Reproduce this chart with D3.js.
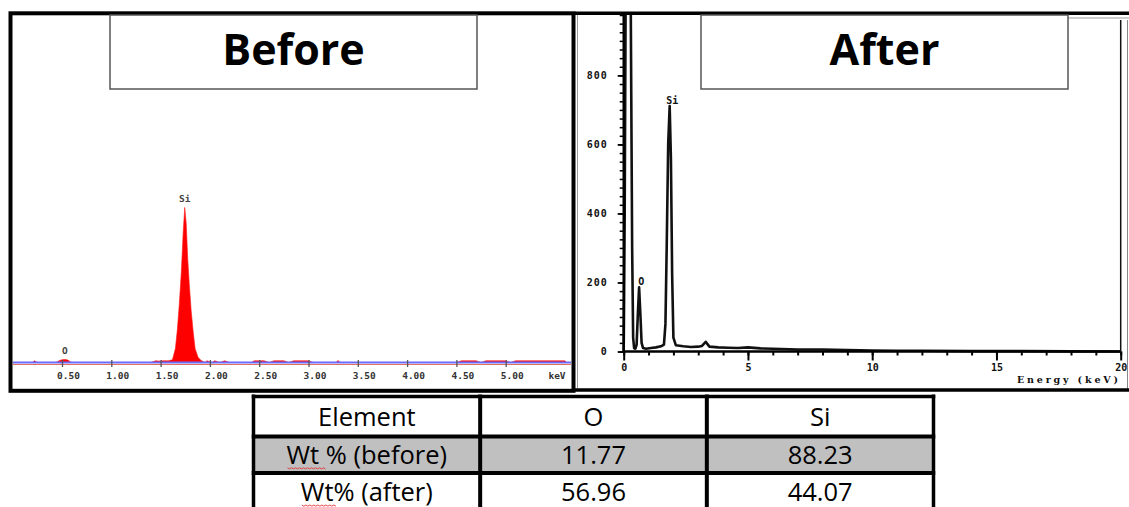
<!DOCTYPE html>
<html><head><meta charset="utf-8">
<script src="https://cdn.jsdelivr.net/npm/d3@7"></script>
<style>body{margin:0;background:#fff} svg{display:block}</style>
</head><body><svg id="c" width="1129" height="507"></svg>
<script>
// ---------- DATA ----------
const panelTitles = ["Before", "After"];

// EDS spectrum before (keV, counts, arbitrary units)
const beforeKeV =    [0.00,0.20,0.22,0.25,0.44,0.47,0.50,0.53,0.56,0.58,0.60,1.40,1.45,1.48,1.52,1.58,1.62,1.65,1.67,1.69,1.71,1.73,1.745,1.76,1.775,1.79,1.81,1.83,1.85,1.88,1.91,1.95,1.97,2.02,2.05,2.10,2.15,2.20,2.42,2.45,2.55,2.60,2.65,2.75,2.80,2.85,3.00,3.05,3.28,3.30,3.32,4.50,4.55,4.70,4.75,4.80,5.00,5.05,5.10,5.60,5.62];
const beforeCounts = [0,   0,   5,   0,   0,   5,   8,   9,   7,   3,   0,   0,   5,   4,   5,   5,   8,   40,  95,  170, 260, 380, 447,  400, 300,  230, 150, 90,  40,  15,  6,   0,   5,   0,   5,   0,   5,   0,   0,   5,   5,   0,   5,   5,   0,   5,   5,   0,   0,   6,   0,   0,   5,   5,   0,   5,   5,   0,   5,   5,   0];
const beforeXTicks = [0.5,1.0,1.5,2.0,2.5,3.0,3.5,4.0,4.5,5.0];
const beforePeaks = [{label:"O", keV:0.53, counts:9}, {label:"Si", keV:1.745, counts:447}];

// EDS spectrum after (keV, counts)
const afterKeV =    [0.00,0.04,0.08,0.28,0.34,0.38,0.42,0.47,0.52,0.57,0.62,0.67,0.72,0.78,0.90,1.10,1.30,1.50,1.62,1.68,1.73,1.79,1.85,1.90,1.95,2.00,2.10,2.40,2.70,3.00,3.15,3.30,3.45,3.80,4.20,4.60,5.00,5.50,6.00,7.00,8.00,9.00,10.0,11.0,12.0,14.0,16.0,18.0,20.0];
const afterCounts = [0,   400, 1050,1050,300, 40,  10,  8,   20,  110, 186, 110, 25,  10,  8,   10,  12,  15,  20,  80,  300, 600, 711, 560, 220, 40,  18,  15,  13,  14,  16,  28,  14,  12,  11,  10,  12,  9,   8,   6,   6,   4,   3,   2,   2,   1,   1,   0.5, 0];
const afterXTicks = [0,5,10,15,20];
const afterYTicks = [0,200,400,600,800];
const afterPeaks = [{label:"O", keV:0.63, counts:186}, {label:"Si", keV:1.87, counts:711}];

// composition table
const tableHeader = ["Element", "O", "Si"];
const tableRowLabels = ["Wt % (before)", "Wt% (after)"];
const tableO  = ["11.77", "56.96"];
const tableSi = ["88.23", "44.07"];

// ---------- DRAW ----------
const svg = d3.select("#c");

// ===== LEFT PANEL (Before) =====
const xB = d3.scaleLinear().domain([0, 5]).range([12.7, 505.7]);
const yB = d3.scaleLinear().domain([0, 1000]).range([362.5, 15.5]);

const left = svg.append("g");
const beforeData = beforeKeV.map((k,i)=>({k, c: beforeCounts[i]}));

left.append("path").datum(beforeData)
  .attr("d", d3.area().x(d=>xB(d.k)).y0(yB(0)).y1(d=>yB(d.c)))
  .attr("fill", "#ff0000").attr("stroke", "#ff1a1a").attr("stroke-width", 0.6);

left.append("line").attr("x1", 13).attr("x2", 571).attr("y1", yB(0)).attr("y2", yB(0))
  .attr("stroke", "#6a6aff").attr("stroke-width", 2);
left.append("line").attr("x1", 13).attr("x2", 571).attr("y1", yB(0)+2).attr("y2", yB(0)+2)
  .attr("stroke", "#e07060").attr("stroke-width", 1);

const axB = left.append("g").attr("transform", "translate(0,360)")
  .call(d3.axisBottom(xB).tickValues(beforeXTicks).tickSize(7).tickPadding(5).tickFormat(d3.format(".2f")));
axB.select(".domain").remove();
axB.selectAll("line").attr("stroke", "#555").attr("stroke-width", 1.3);
axB.selectAll("text").attr("font-family", "DejaVu Sans Mono").attr("font-size", 9.5)
  .attr("fill", "#333").attr("dx", 6).attr("font-weight", "bold");
left.append("text").attr("x", 557).attr("y", 379).attr("text-anchor", "middle")
  .attr("font-family", "DejaVu Sans Mono").attr("font-size", 9.5).attr("font-weight", "bold")
  .attr("fill", "#333").text("keV");

left.selectAll(".pl").data(beforePeaks).enter().append("text")
  .attr("x", d=>xB(d.keV)).attr("y", d=>yB(d.counts)-5)
  .attr("text-anchor", "middle").attr("font-family", "DejaVu Sans Mono").attr("font-size", 9.5)
  .attr("font-weight", "bold").attr("fill", "#444").text(d=>d.label);

left.append("rect").attr("x", 10.5).attr("y", 13.3).attr("width", 563).attr("height", 377.5)
  .attr("fill", "none").attr("stroke", "#000").attr("stroke-width", 4);

left.append("rect").attr("x", 110).attr("y", 15).attr("width", 367).attr("height", 74)
  .attr("fill", "#fff").attr("stroke", "#555").attr("stroke-width", 1.5);
left.append("text").attr("x", 293.5).attr("y", 65).attr("text-anchor", "middle")
  .attr("font-family", "Open Sans").attr("font-weight", "bold").attr("font-size", 43)
  .attr("fill", "#000").text(panelTitles[0]);

// ===== RIGHT PANEL (After) =====
const xA = d3.scaleLinear().domain([0, 20]).range([623.7, 1120.7]);
const yA = d3.scaleLinear().domain([0, 975]).range([351.5, 15]);
const right = svg.append("g");

svg.append("defs").append("clipPath").attr("id", "clipA").append("rect")
  .attr("x", 600).attr("y", 15).attr("width", 525).attr("height", 340);

const afterData = afterKeV.map((k,i)=>({k, c: afterCounts[i]}));
right.append("path").datum(afterData).attr("clip-path", "url(#clipA)")
  .attr("d", d3.line().x(d=>xA(d.k)).y(d=>yA(d.c)))
  .attr("fill", "none").attr("stroke", "#111").attr("stroke-width", 2.6).attr("stroke-linejoin", "round");

const axAx = right.append("g").attr("transform", `translate(0,${yA(0)})`)
  .call(d3.axisBottom(xA).tickValues(afterXTicks).tickSize(9).tickPadding(3));
axAx.select(".domain").attr("stroke-width", 2.4).attr("d", `M${xA(0)},0H${xA(20)}`);
axAx.selectAll("line").attr("stroke-width", 2);
axAx.selectAll("text").attr("font-family", "DejaVu Sans Mono").attr("font-size", 10)
  .attr("font-weight", "bold").attr("fill", "#111");
right.append("g").attr("transform", `translate(0,${yA(0)})`)
  .call(d3.axisBottom(xA).tickValues(d3.range(0, 21, 1)).tickSize(4).tickFormat(""))
  .call(g=>g.select(".domain").remove())
  .selectAll("line").attr("stroke-width", 2);

const axAy = right.append("g").attr("transform", `translate(${xA(0)},0)`)
  .call(d3.axisLeft(yA).tickValues(afterYTicks).tickSize(6).tickPadding(10));
axAy.select(".domain").attr("stroke-width", 2.4).attr("d", `M0,${yA(975)}V${yA(0)}`);
axAy.selectAll("line").attr("stroke-width", 1.8);
axAy.selectAll("text").attr("font-family", "DejaVu Sans Mono").attr("font-size", 10)
  .attr("font-weight", "bold").attr("fill", "#111").attr("letter-spacing", 1);
right.append("g").attr("transform", `translate(${xA(0)},0)`)
  .call(d3.axisLeft(yA).tickValues(d3.range(0, 976, 25)).tickSize(4).tickFormat(""))
  .call(g=>g.select(".domain").remove())
  .selectAll("line").attr("stroke-width", 1.5);

right.append("line").attr("x1", xA(20)).attr("x2", xA(20)).attr("y1", 20).attr("y2", yA(0))
  .attr("stroke", "#111").attr("stroke-width", 1.5);
right.append("line").attr("x1", 1127.5).attr("x2", 1127.5).attr("y1", 20).attr("y2", 390)
  .attr("stroke", "#888").attr("stroke-width", 1);

right.append("text").attr("x", 1017).attr("y", 383).attr("textLength", 101)
  .attr("lengthAdjust", "spacing")
  .attr("font-family", "DejaVu Serif").attr("font-size", 9.5).attr("font-weight", "bold")
  .attr("fill", "#111").text("Energy  (keV)");

right.selectAll(".pl").data(afterPeaks).enter().append("text")
  .attr("x", d=>xA(d.keV)+2).attr("y", d=>yA(d.counts)-2)
  .attr("text-anchor", "middle").attr("font-family", "DejaVu Sans Mono").attr("font-size", 10)
  .attr("font-weight", "bold").attr("fill", "#111").text(d=>d.label);

right.append("line").attr("x1", 575).attr("x2", 1129).attr("y1", 13.3).attr("y2", 13.3)
  .attr("stroke", "#000").attr("stroke-width", 3.5);
right.append("line").attr("x1", 575).attr("x2", 1129).attr("y1", 390).attr("y2", 390)
  .attr("stroke", "#000").attr("stroke-width", 3.5);
right.append("line").attr("x1", 577.5).attr("x2", 577.5).attr("y1", 15).attr("y2", 388)
  .attr("stroke", "#999").attr("stroke-width", 1);
right.append("line").attr("x1", 1068).attr("x2", 1129).attr("y1", 18).attr("y2", 18)
  .attr("stroke", "#999").attr("stroke-width", 1);

right.append("rect").attr("x", 701).attr("y", 15).attr("width", 367).attr("height", 74)
  .attr("fill", "#fff").attr("stroke", "#555").attr("stroke-width", 1.5);
right.append("text").attr("x", 884.5).attr("y", 65).attr("text-anchor", "middle")
  .attr("font-family", "Open Sans").attr("font-weight", "bold").attr("font-size", 43)
  .attr("fill", "#000").text(panelTitles[1]);

// ===== TABLE =====
const colX = d3.scaleBand().domain([0,1,2]).range([253.5, 933.5]);
const rowTop = [396.5, 436.5, 473, 511];
const tbl = svg.append("g");
const rows = [tableHeader, ...tableRowLabels.map((l,i)=>[l, tableO[i], tableSi[i]])];

tbl.append("rect").attr("x", colX(0)).attr("y", rowTop[1]).attr("width", colX.range()[1]-colX.range()[0])
  .attr("height", rowTop[2]-rowTop[1]).attr("fill", "#c0c0c0");

rows.forEach((r, ri)=>{
  const mid = (rowTop[ri] + rowTop[ri+1]) / 2;
  r.forEach((t, ci)=>{
    const tx = tbl.append("text").attr("x", colX(ci) + colX.bandwidth()/2).attr("y", mid + 9)
      .attr("text-anchor", "middle").attr("font-family", "Open Sans").attr("font-size", 25.5)
      .attr("fill", "#000").text(t);
    if (ri > 0 && ci === 0) {
      const bb = tx.node().getBBox();
      const x0 = bb.x + 1, w = ri === 1 ? 38 : 35, yy = mid + 13;
      const pts = d3.range(0, Math.floor(w/2)+1).map(i=>[x0 + i*2, yy + (i%2 ? 1.2 : 0)]);
      tbl.append("path").attr("d", d3.line()(pts)).attr("fill", "none")
        .attr("stroke", "#e03030").attr("stroke-width", 0.9);
    }
  });
});
[0,1,2].forEach(ci=>{
  tbl.append("line").attr("x1", colX(ci)).attr("x2", colX(ci)).attr("y1", rowTop[0]-2).attr("y2", 507)
    .attr("stroke", "#000").attr("stroke-width", ci===0 ? 3.5 : 4);
});
tbl.append("line").attr("x1", colX.range()[1]).attr("x2", colX.range()[1]).attr("y1", rowTop[0]-2).attr("y2", 507)
  .attr("stroke", "#000").attr("stroke-width", 3.5);
rowTop.slice(0,3).forEach((y, i)=>{
  tbl.append("line").attr("x1", colX.range()[0]-1.75).attr("x2", colX.range()[1]+1.75).attr("y1", y).attr("y2", y)
    .attr("stroke", "#000").attr("stroke-width", i===0 ? 3.5 : 4);
});
</script></body></html>
